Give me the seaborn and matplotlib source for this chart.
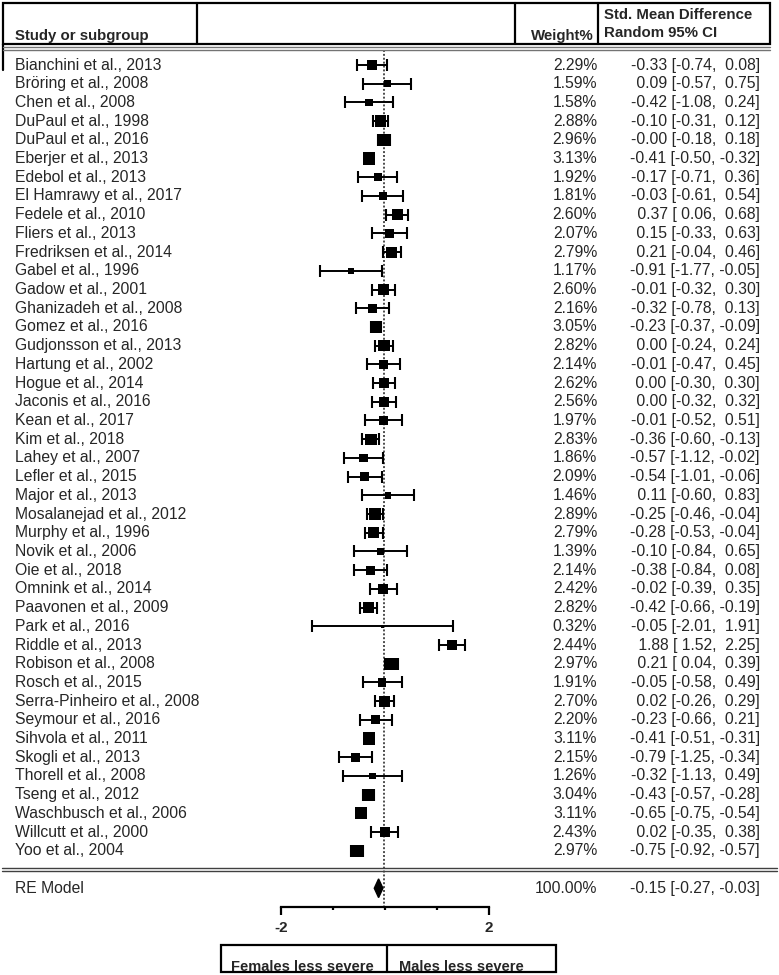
import numpy as np
import pandas as pd
import matplotlib
matplotlib.use("Agg")
import matplotlib.pyplot as plt
import matplotlib.transforms as mtransforms
from matplotlib.patches import Rectangle
from matplotlib.lines import Line2D
import seaborn as sns

# -------------------------------
# Data
# -------------------------------
studies = [
    "Bianchini et al., 2013", "Bröring et al., 2008", "Chen et al., 2008",
    "DuPaul et al., 1998", "DuPaul et al., 2016", "Eberjer et al., 2013",
    "Edebol et al., 2013", "El Hamrawy et al., 2017", "Fedele et al., 2010",
    "Fliers et al., 2013", "Fredriksen et al., 2014", "Gabel et al., 1996",
    "Gadow et al., 2001", "Ghanizadeh et al., 2008", "Gomez et al., 2016",
    "Gudjonsson et al., 2013", "Hartung et al., 2002", "Hogue et al., 2014",
    "Jaconis et al., 2016", "Kean et al., 2017", "Kim et al., 2018",
    "Lahey et al., 2007", "Lefler et al., 2015", "Major et al., 2013",
    "Mosalanejad et al., 2012", "Murphy et al., 1996", "Novik et al., 2006",
    "Oie et al., 2018", "Omnink et al., 2014", "Paavonen et al., 2009",
    "Park et al., 2016", "Riddle et al., 2013", "Robison et al., 2008",
    "Rosch et al., 2015", "Serra-Pinheiro et al., 2008", "Seymour et al., 2016",
    "Sihvola et al., 2011", "Skogli et al., 2013", "Thorell et al., 2008",
    "Tseng et al., 2012", "Waschbusch et al., 2006", "Willcutt et al., 2000",
    "Yoo et al., 2004",
]
weights = [2.29, 1.59, 1.58, 2.88, 2.96, 3.13, 1.92, 1.81, 2.60, 2.07, 2.79,
           1.17, 2.60, 2.16, 3.05, 2.82, 2.14, 2.62, 2.56, 1.97, 2.83, 1.86,
           2.09, 1.46, 2.89, 2.79, 1.39, 2.14, 2.42, 2.82, 0.32, 2.44, 2.97,
           1.91, 2.70, 2.20, 3.11, 2.15, 1.26, 3.04, 3.11, 2.43, 2.97]
smd = [-0.33, 0.09, -0.42, -0.10, -0.00, -0.41, -0.17, -0.03, 0.37, 0.15, 0.21,
       -0.91, -0.01, -0.32, -0.23, 0.00, -0.01, 0.00, 0.00, -0.01, -0.36, -0.57,
       -0.54, 0.11, -0.25, -0.28, -0.10, -0.38, -0.02, -0.42, -0.05, 1.88, 0.21,
       -0.05, 0.02, -0.23, -0.41, -0.79, -0.32, -0.43, -0.65, 0.02, -0.75]
ci_lo = [-0.74, -0.57, -1.08, -0.31, -0.18, -0.50, -0.71, -0.61, 0.06, -0.33, -0.04,
         -1.77, -0.32, -0.78, -0.37, -0.24, -0.47, -0.30, -0.32, -0.52, -0.60, -1.12,
         -1.01, -0.60, -0.46, -0.53, -0.84, -0.84, -0.39, -0.66, -2.01, 1.52, 0.04,
         -0.58, -0.26, -0.66, -0.51, -1.25, -1.13, -0.57, -0.75, -0.35, -0.92]
ci_hi = [0.08, 0.75, 0.24, 0.12, 0.18, -0.32, 0.36, 0.54, 0.68, 0.63, 0.46,
         -0.05, 0.30, 0.13, -0.09, 0.24, 0.45, 0.30, 0.32, 0.51, -0.13, -0.02,
         -0.06, 0.83, -0.04, -0.04, 0.65, 0.08, 0.35, -0.19, 1.91, 2.25, 0.39,
         0.49, 0.29, 0.21, -0.31, -0.34, 0.49, -0.28, -0.54, 0.38, -0.57]

re_label = "RE Model"
re_weight = 100.00
re_est, re_lo, re_hi = -0.15, -0.27, -0.03

axis_ticks = [-2, 2]
axis_minor = [-1, 0, 1]
side_labels = ["Females less severe", "Males less severe"]

# -------------------------------
# Layout (pixels of a 779 x 975 image)
# -------------------------------
W, H = 779, 975
ROW0, ROWH = 65, 18.71          # centre of first row, row pitch
ZERO_X, UNIT = 384, 36.0        # x of effect 0, pixels per SMD unit
BOX_L, BOX_R = 3, 770           # header box
SEPS = [197, 515, 598]          # header column separators
WEIGHT_R, EFFECT_R = 597, 760   # right edges of the number columns

def fx(px):
    return px / W

def fy(py):
    return 1 - py / H

def row_of(py):
    return (py - ROW0) / ROWH

sns.set_style("white")
plt.rcParams["font.family"] = ["Liberation Sans", "DejaVu Sans"]

fig = plt.figure(figsize=(W / 100, H / 100), dpi=100)
ax = fig.add_axes([0, 0, 1, 1])

df = pd.DataFrame({"study": studies, "weight": weights, "smd": smd,
                   "lo": ci_lo, "hi": ci_hi, "row": np.arange(len(studies))})

# reference line at 0
ax.vlines(0, row_of(50), row_of(907), colors="0.3", linewidth=1.4,
          linestyles=(0, (1, 1)), zorder=1)

# confidence intervals
ax.errorbar(df["smd"], df["row"], xerr=[df["smd"] - df["lo"], df["hi"] - df["smd"]],
            fmt="none", ecolor="black", elinewidth=1.4, capsize=4.2, capthick=1.5,
            zorder=2)

# weighted squares
size_map = {w: (0.72 * (2.2 + 3.2 * w)) ** 2 for w in sorted(set(weights))}
sns.scatterplot(data=df, x="smd", y="row", size="weight", sizes=size_map,
                marker="s", color="black", edgecolor="black", linewidth=0,
                legend=False, ax=ax, zorder=3)
ax.set_xlim(-ZERO_X / UNIT, (W - ZERO_X) / UNIT)
ax.set_ylim(row_of(H), row_of(0))
ax.set_axis_off()

# summary diamond
re_row = len(studies) + 1
ax.fill([re_lo, re_est, re_hi, re_est],
        [re_row, re_row - 0.5, re_row, re_row + 0.5], color="black", zorder=3)

# text columns
tr = mtransforms.blended_transform_factory(fig.transFigure, ax.transData)
fs = 11.3
for r in df.itertuples():
    ax.text(fx(15), r.row, r.study, transform=tr, fontsize=fs, va="center", ha="left")
    ax.text(fx(WEIGHT_R), r.row, f"{r.weight:.2f}%", transform=tr, fontsize=fs,
            va="center", ha="right")
    ax.text(fx(EFFECT_R), r.row, f"{r.smd:5.2f} [{r.lo:5.2f}, {r.hi:5.2f}]",
            transform=tr, fontsize=fs, va="center", ha="right")

ax.text(fx(15), re_row, re_label, transform=tr, fontsize=fs, va="center", ha="left")
ax.text(fx(WEIGHT_R), re_row, f"{re_weight:.2f}%", transform=tr, fontsize=fs,
        va="center", ha="right")
ax.text(fx(EFFECT_R), re_row, f"{re_est:5.2f} [{re_lo:5.2f}, {re_hi:5.2f}]",
        transform=tr, fontsize=fs, va="center", ha="right")

# header box
hdr_top, hdr_bot = 3, 44
hfs = 10.8
fig.add_artist(Rectangle((fx(BOX_L), fy(hdr_bot)), fx(BOX_R) - fx(BOX_L),
                         fy(hdr_top) - fy(hdr_bot), transform=fig.transFigure,
                         fill=False, edgecolor="black", linewidth=1.6))
for sx in SEPS:
    fig.add_artist(Line2D([fx(sx), fx(sx)], [fy(hdr_top), fy(hdr_bot)],
                          transform=fig.transFigure, color="black", linewidth=1.6))
fig.add_artist(Line2D([fx(BOX_L), fx(BOX_L)], [fy(hdr_bot), fy(70)],
                      transform=fig.transFigure, color="black", linewidth=1.6))
fig.text(fx(15), fy(hdr_bot - 1), "Study or subgroup", fontsize=hfs, fontweight="bold",
         va="bottom", ha="left")
fig.text(fx(SEPS[2] - 4), fy(hdr_bot - 1), "Weight%", fontsize=hfs, fontweight="bold",
         va="bottom", ha="right")
fig.text(fx(SEPS[2] + 6), fy(15), "Std. Mean Difference", fontsize=hfs,
         fontweight="bold", va="center", ha="left")
fig.text(fx(SEPS[2] + 6), fy(33), "Random 95% CI", fontsize=hfs, fontweight="bold",
         va="center", ha="left")

# double rules
for yy in [47, 50]:
    fig.add_artist(Line2D([fx(BOX_L), fx(BOX_R)], [fy(yy), fy(yy)],
                          transform=fig.transFigure, color="0.45", linewidth=1.0))
for yy in [867.5, 870.5]:
    fig.add_artist(Line2D([fx(2), fx(777)], [fy(yy), fy(yy)], transform=fig.transFigure,
                          color="0.25", linewidth=1.0))

# bottom axis (own scale, -2 .. 2)
ax2 = fig.add_axes([fx(281), fy(907), fx(489) - fx(281), 0.0001])
ax2.set_facecolor("none")
ax2.set_xlim(axis_ticks[0], axis_ticks[-1])
for s in ["top", "left", "right"]:
    ax2.spines[s].set_visible(False)
ax2.spines["bottom"].set_linewidth(1.6)
ax2.spines["bottom"].set_color("black")
ax2.set_yticks([])
ax2.set_xticks(axis_ticks)
ax2.set_xticklabels([str(t) for t in axis_ticks], fontsize=11, fontweight="bold")
ax2.set_xticks(axis_minor, minor=True)
ax2.tick_params(axis="x", which="major", direction="out", length=6, width=1.6,
                pad=4, bottom=True, color="black")
ax2.tick_params(axis="x", which="minor", direction="out", length=2.5, width=1.6,
                bottom=True, color="black")

# favours box
bx0, bxm, bx1, by0, by1 = 221, 387, 556, 945, 972
fig.add_artist(Rectangle((fx(bx0), fy(by1)), fx(bx1) - fx(bx0), fy(by0) - fy(by1),
                         transform=fig.transFigure, fill=False, edgecolor="black",
                         linewidth=1.6))
fig.add_artist(Line2D([fx(bxm), fx(bxm)], [fy(by0), fy(by1)], transform=fig.transFigure,
                      color="black", linewidth=1.6))
fig.text(fx(bxm - 13), fy(by1 - 1), side_labels[0], fontsize=10.5,
         fontweight="bold", ha="right", va="baseline")
fig.text(fx(bxm + 12), fy(by1 - 1), side_labels[1], fontsize=10.5,
         fontweight="bold", ha="left", va="baseline")

fig.savefig("out.png", dpi=100)
